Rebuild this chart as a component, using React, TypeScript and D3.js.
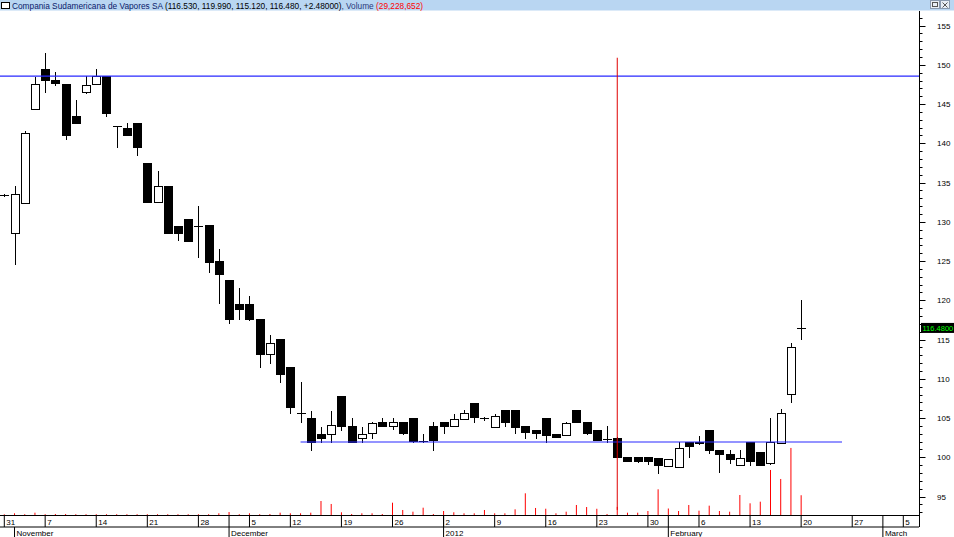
import React from 'react';
import * as d3 from 'd3';

const W = 954;
const H = 537;

const tradingDates = [
  '2011-10-31',
  '2011-11-02', '2011-11-03', '2011-11-04',
  '2011-11-07', '2011-11-08', '2011-11-09', '2011-11-10', '2011-11-11',
  '2011-11-14', '2011-11-15', '2011-11-16', '2011-11-17', '2011-11-18',
  '2011-11-21', '2011-11-22', '2011-11-23', '2011-11-24', '2011-11-25',
  '2011-11-28', '2011-11-29', '2011-11-30', '2011-12-01', '2011-12-02',
  '2011-12-05', '2011-12-06', '2011-12-07', '2011-12-09',
  '2011-12-12', '2011-12-13', '2011-12-14', '2011-12-15', '2011-12-16',
  '2011-12-19', '2011-12-20', '2011-12-21', '2011-12-22', '2011-12-23',
  '2011-12-26', '2011-12-27', '2011-12-28', '2011-12-29', '2011-12-30',
  '2012-01-02', '2012-01-03', '2012-01-04', '2012-01-05', '2012-01-06',
  '2012-01-09', '2012-01-10', '2012-01-11', '2012-01-12', '2012-01-13',
  '2012-01-16', '2012-01-17', '2012-01-18', '2012-01-19', '2012-01-20',
  '2012-01-23', '2012-01-24', '2012-01-25', '2012-01-26', '2012-01-27',
  '2012-01-30', '2012-01-31', '2012-02-01', '2012-02-02', '2012-02-03',
  '2012-02-06', '2012-02-07', '2012-02-08', '2012-02-09', '2012-02-10',
  '2012-02-13', '2012-02-14', '2012-02-15', '2012-02-16', '2012-02-17',
  '2012-02-20', '2012-02-21', '2012-02-22', '2012-02-23', '2012-02-24',
  '2012-02-27', '2012-02-28', '2012-02-29', '2012-03-01', '2012-03-02',
  '2012-03-05', '2012-03-06',
];

const openP = [
  133.4, 128.54, 132.43, 144.41, 149.43, 148.03, 147.52, 143.48, 146.5, 147.52,
  148.57, 142.2, 141.99, 142.55, 137.45, 132.52, 134.56, 129.46, 130.32, 129.46,
  129.55, 125.01, 122.55, 119.53, 119.53, 117.58, 113.12, 115.03, 111.54, 105.61,
  104.97, 102.97, 102.93, 107.77, 103.99, 102.42, 103.06, 104.46, 103.95, 104.5,
  104.97, 102.04, 103.99, 104.46, 103.99, 104.88, 106.88, 105.04, 103.9, 106.03,
  106.03, 103.99, 103.48, 104.97, 102.97, 102.84, 106.03, 104.46, 103.48, 102.29,
  102.5, 100.0, 100.0, 100.0, 99.87, 98.93, 98.8, 101.91, 101.99, 103.48,
  100.93, 100.42, 99.06, 101.91, 100.64, 99.24, 101.86, 108.06, 116.53,
];
const highP = [
  133.5, 134.56, 141.61, 148.48, 151.46, 149.04, 147.55, 145.52, 148.57, 149.46,
  148.6, 142.25, 142.55, 142.58, 137.48, 136.47, 134.58, 129.48, 130.35, 132.01,
  129.58, 126.54, 122.58, 121.53, 120.55, 117.6, 115.58, 115.05, 111.56, 109.55,
  105.94, 103.9, 105.94, 107.8, 104.97, 103.82, 104.45, 104.97, 104.97, 104.52,
  105.0, 102.97, 104.54, 104.5, 105.48, 106.03, 106.9, 105.1, 105.48, 106.05,
  106.05, 104.02, 103.5, 105.0, 103.0, 104.45, 106.05, 104.5, 103.5, 103.99,
  102.55, 100.03, 100.03, 100.03, 99.9, 99.8, 101.91, 101.93, 102.71, 103.5,
  100.95, 100.93, 100.93, 101.93, 100.66, 105.04, 106.11, 114.52, 119.99,
];
const lowP = [
  133.3, 124.59, 132.4, 144.4, 146.5, 147.46, 140.51, 142.55, 146.45, 147.5,
  143.48, 139.57, 141.03, 138.51, 132.5, 132.5, 128.58, 127.68, 127.55, 125.55,
  123.61, 119.62, 117.07, 117.58, 117.55, 111.54, 111.97, 109.63, 105.61, 104.54,
  100.93, 101.99, 101.95, 103.48, 101.93, 101.95, 102.5, 104.0, 103.57, 103.03,
  102.0, 101.95, 100.93, 103.06, 103.95, 104.85, 104.54, 104.75, 103.85, 104.03,
  103.06, 102.5, 102.5, 101.95, 102.55, 102.8, 104.5, 103.03, 102.15, 101.95,
  100.05, 99.55, 99.44, 99.15, 98.04, 98.9, 98.78, 100.08, 101.75, 100.51,
  98.17, 99.31, 99.0, 99.02, 99.03, 99.2, 101.84, 107.08, 115.12,
];
const closeP = [
  133.4, 133.5, 141.27, 147.52, 148.06, 147.72, 141.06, 142.59, 147.39, 148.57,
  143.82, 142.2, 141.06, 139.49, 132.56, 134.56, 128.61, 128.61, 127.59, 129.46,
  124.84, 123.35, 117.58, 118.93, 117.58, 113.16, 114.6, 110.57, 106.45, 105.61,
  101.95, 102.5, 104.08, 104.03, 101.95, 102.93, 104.41, 104.03, 104.46, 103.06,
  102.04, 102.04, 102.24, 104.03, 104.84, 105.64, 105.1, 105.04, 105.26, 104.5,
  103.82, 103.26, 103.06, 102.84, 102.62, 104.41, 104.54, 103.06, 102.2, 102.29,
  100.08, 99.57, 99.57, 99.57, 99.02, 99.78, 101.15, 101.4, 101.78, 100.93,
  100.42, 99.78, 99.87, 99.57, 99.06, 101.91, 105.61, 114.0, 116.48,
];
// volume in millions of shares
const volumeM = [
  1.0, 2.5, 1.2, 3.4, 1.2, 1.5, 1.5, 1.2, 1.2, 1.2,
  1.2, 1.2, 1.2, 1.2, 1.2, 1.2, 1.2, 1.2, 1.2, 1.2,
  1.2, 2.5, 4.4, 1.2, 2.5, 1.2, 1.5, 3.4, 2.5, 2.5,
  3.4, 20.7, 16.3, 4.0, 1.5, 2.5, 2.5, 1.5, 18.2, 7.4,
  4.9, 10.8, 1.5, 5.9, 4.0, 2.5, 2.5, 7.4, 2.5, 2.5,
  8.4, 32.1, 10.4, 9.3, 2.5, 4.9, 14.8, 11.8, 9.2, 1.5,
  12.0, 3.4, 3.4, 5.9, 38.0, 9.6, 5.9, 14.8, 6.4, 13.8,
  5.9, 4.9, 29.6, 17.3, 19.7, 66.6, 53.3, 99.2, 29.228652,
];

const weekTickDates = [
  '2011-10-31', '2011-11-07', '2011-11-14', '2011-11-21', '2011-11-28',
  '2011-12-05', '2011-12-12', '2011-12-19', '2011-12-26', '2012-01-02',
  '2012-01-09', '2012-01-16', '2012-01-23', '2012-01-30', '2012-02-06',
  '2012-02-13', '2012-02-20', '2012-02-27', '2012-03-05',
];
const weekLabels = ['31', '7', '14', '21', '28', '5', '12', '19', '26', '2', '9', '16', '23', '30', '6', '13', '20', '27', '5'];
const monthTickDates = ['2011-11-02', '2011-12-01', '2012-01-02', '2012-02-01', '2012-03-01'];
const monthLabels = ['November', 'December', '2012', 'February', 'March'];
const priceTicks = [95, 100, 105, 110, 115, 120, 125, 130, 135, 140, 145, 150, 155];

const stockName = 'Compania Sudamericana de Vapores SA';
const resistanceLevel = 148.55;
const supportLevel = 101.95;
const supportFrom = '2011-12-13';
const supportTo = '2012-02-24';
const crosshairDate = '2012-01-25';
const crosshairTop = 150.9;
const crosshairBottom = 93.3;

const FONT = '"Liberation Sans", Arial, sans-serif';

export default function App() {
  const axisX = 919.5;
  const x = d3.scalePoint<string>().domain(tradingDates).range([4.3, 4.3 + 89 * 10.216]);
  const y = d3.scaleLinear().domain([100, 150]).range([457.3, 457.3 - 392.5]);
  const vy = d3.scaleLinear().domain([0, 100]).range([515, 515 - 67.6]);
  const fmtTitle = d3.format(',.3f');
  const fmtVol = d3.format(',d');

  const n = closeP.length;
  const last = n - 1;
  const prevClose = closeP[last - 1];
  const change = closeP[last] - prevClose;

  const minorTicks = d3.range(93, 157, 1);
  const weekXs = weekTickDates.map((d) => x(d) as number);

  const candles = d3.range(n).map((i) => {
    const cx = Math.round(x(tradingDates[i]) as number);
    const o = openP[i], c = closeP[i], h = highP[i], l = lowP[i];
    const yo = y(o), yc = y(c);
    const up = c > o;
    const top = Math.round(Math.min(yo, yc));
    const bot = Math.round(Math.max(yo, yc));
    const wx = cx + 0.5;
    const els: React.ReactNode[] = [];
    els.push(
      <line key="w" x1={wx} x2={wx} y1={Math.round(y(h))} y2={Math.round(y(l)) + 1} stroke="#000" strokeWidth={1} />
    );
    if (bot - top < 1) {
      els.push(<line key="d" x1={cx - 4} x2={cx + 5} y1={top + 0.5} y2={top + 0.5} stroke="#000" strokeWidth={1} />);
    } else {
      els.push(
        <rect key="b" x={cx - 3.5} y={top + 0.5} width={8} height={bot - top} fill={up ? '#fff' : '#000'} stroke="#000" strokeWidth={1} />
      );
    }
    return <g key={i}>{els}</g>;
  });

  const volBars = d3.range(n).map((i) => {
    const cx = x(tradingDates[i]) as number;
    return <line key={i} x1={cx} x2={cx} y1={515} y2={vy(volumeM[i])} stroke="#ff0000" strokeWidth={1} />;
  });

  const lastY = y(closeP[last]);

  return (
    <svg width={W} height={H} style={{ position: 'absolute', left: 0, top: 0, display: 'block', background: '#fff' }} fontFamily={FONT}>
      <rect x={0} y={0} width={W} height={H} fill="#fff" />
      {/* title bar */}
      <rect x={0} y={0} width={W} height={10.5} fill="#b9d6f2" />
      <rect x={1.5} y={2.5} width={8} height={6} fill="#fff" stroke="#000" strokeWidth={1} />
      <text x={12} y={8.7} fontSize={8.3} fill="#000">
        <tspan fill="#0a1a6a">{stockName} </tspan>
        <tspan fill="#000">
          ({fmtTitle(openP[last])}, {fmtTitle(highP[last])}, {fmtTitle(lowP[last])}, {fmtTitle(closeP[last])}, {change >= 0 ? '+' : ''}{change.toFixed(5)})
        </tspan>
        <tspan fill="#2a3a7a">, Volume </tspan>
        <tspan fill="#ff0000">({fmtVol(Math.round(volumeM[last] * 1e6))})</tspan>
      </text>
      {/* window buttons */}
      <rect x={930.5} y={0.5} width={9} height={8} fill="#e8eef6" stroke="#8a9ab0" strokeWidth={1} />
      <rect x={932.5} y={2.5} width={5} height={4} fill="none" stroke="#555" strokeWidth={1} />
      <rect x={940.5} y={0.5} width={9} height={8} fill="#e8eef6" stroke="#8a9ab0" strokeWidth={1} />
      <path d="M942.5,2.5 L947.5,7.5 M947.5,2.5 L942.5,7.5" stroke="#555" strokeWidth={1} />

      {/* volume */}
      <g>{volBars}</g>

      {/* candles */}
      <g>{candles}</g>

      {/* lines */}
      <line x1={0} x2={axisX} y1={y(resistanceLevel)} y2={y(resistanceLevel)} stroke="#2828ff" strokeWidth={1.2} />
      <line
        x1={x(supportFrom) as number}
        x2={x(supportTo) as number}
        y1={y(supportLevel)}
        y2={y(supportLevel)}
        stroke="#2828ff"
        strokeWidth={1.2}
      />

      {/* crosshair */}
      <line
        x1={x(crosshairDate) as number}
        x2={x(crosshairDate) as number}
        y1={y(crosshairTop)}
        y2={y(crosshairBottom)}
        stroke="#e00000"
        strokeWidth={1}
      />

      {/* right axis */}
      <line x1={axisX} x2={axisX} y1={11} y2={527} stroke="#000" strokeWidth={1} />
      {minorTicks.map((p) => (
        <line key={'m' + p} x1={axisX} x2={axisX + (p % 5 === 0 ? 6 : 3)} y1={Math.round(y(p)) + 0.5} y2={Math.round(y(p)) + 0.5} stroke="#000" strokeWidth={1} />
      ))}
      {priceTicks.map((p) => (
        <text key={'t' + p} x={937} y={y(p) + 3} fontSize={8} fill="#000">
          {p}
        </text>
      ))}
      <rect x={921} y={lastY - 5} width={33} height={10} fill="#000" />
      <text x={922.5} y={lastY + 3} fontSize={7.5} fill="#00ff00">
        {closeP[last].toFixed(4)}
      </text>

      {/* bottom date axis */}
      <line x1={0} x2={919} y1={515.5} y2={515.5} stroke="#000" strokeWidth={1} />
      <line x1={0} x2={919} y1={527} y2={527} stroke="#000" strokeWidth={1} />
      {weekTickDates.map((d, i) => {
        const tx = weekXs[i];
        return (
          <g key={'w' + d}>
            <line x1={tx} x2={tx} y1={515.5} y2={527} stroke="#000" strokeWidth={1} />
            <text x={tx + 2} y={524.5} fontSize={8} fill="#000">
              {weekLabels[i]}
            </text>
          </g>
        );
      })}
      {monthTickDates.map((d, i) => {
        const tx = x(d) as number;
        const prevWeek = d3.max(weekXs.filter((w) => w <= tx + 0.01)) ?? -100;
        const crowded = tx - prevWeek > 0.5 && tx - prevWeek < 14;
        return (
          <g key={'mo' + d}>
            <line x1={tx} x2={tx} y1={crowded ? 527 : 515.5} y2={537} stroke="#000" strokeWidth={1} />
            <text x={tx + 2} y={535.5} fontSize={8} fill="#000">
              {monthLabels[i]}
            </text>
          </g>
        );
      })}
    </svg>
  );
}
